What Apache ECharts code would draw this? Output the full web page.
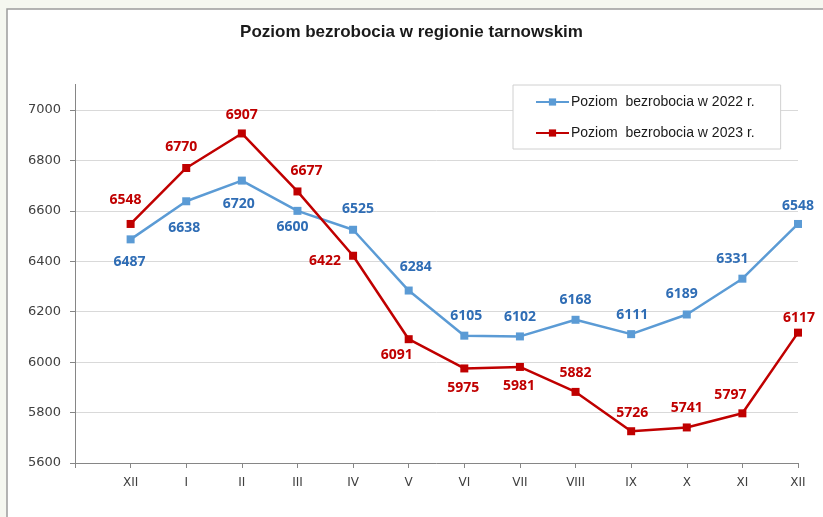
<!DOCTYPE html>
<html>
<head>
<meta charset="utf-8">
<script src="https://cdn.jsdelivr.net/npm/echarts@6/dist/echarts.min.js"></script>
<style>
html,body{margin:0;padding:0;background:#f5f7f0;}
#c{width:823px;height:517px;}
</style>
</head>
<body>
<div id="c"></div>
<script>
// ---- data ----
var titleText = 'Poziom bezrobocia w regionie tarnowskim';
var categories = ['', 'XII', 'I', 'II', 'III', 'IV', 'V', 'VI', 'VII', 'VIII', 'IX', 'X', 'XI', 'XII'];
var seriesNames = ['Poziom  bezrobocia w 2022 r.', 'Poziom  bezrobocia w 2023 r.'];
var values2022 = [6487, 6638, 6720, 6600, 6525, 6284, 6105, 6102, 6168, 6111, 6189, 6331, 6548];
var values2023 = [6548, 6770, 6907, 6677, 6422, 6091, 5975, 5981, 5882, 5726, 5741, 5797, 6117];
var yMin = 5600, yMax = 7000, yStep = 200;

// label placement (styling only)
var pos2022 = ['bottom','bottom','bottom','bottom','top','top','top','top','top','top','top','top','top'];
var off2022 = [[-1,3],[-2,7],[-3,3],[-5,-4],[5,-1],[7,-4],[2,0],[0,1],[0,0],[1,1],[-5,0],[-10,0],[0,2]];
var pos2023 = ['top','top','top','top','left','bottom','bottom','bottom','top','top','top','top','top'];
var off2023 = [[-5,-4],[-5,-1],[0,2],[9,0],[0,5],[-12,-4],[-1,0],[-1,-1],[0,1],[1,2],[0,1],[-12,2],[1,5]];

function buildData(vals, pos, off) {
  var out = [null];
  vals.forEach(function (v, i) {
    out.push({
      value: v,
      label: { position: pos[i], offset: off[i], distance: pos[i] === 'left' ? 8 : 9 }
    });
  });
  return out;
}

var blue = '#5b9bd5', blueText = '#2f6db5';
var red = '#c00000';
var labelFont = { fontFamily: 'Noto Sans', fontWeight: 'bold', fontSize: 14 };

var chart = echarts.init(document.getElementById('c'), null, { renderer: 'canvas' });
chart.setOption({
  animation: false,
  backgroundColor: 'transparent',
  graphic: [
    { type: 'rect', z: -10, silent: true, shape: { x: 7, y: 9, width: 830, height: 520 },
      style: { fill: '#ffffff', stroke: '#9c9c9c', lineWidth: 1.5 } },
    { type: 'line', z: 10, silent: true, shape: { x1: 75.5, y1: 84, x2: 75.5, y2: 111 },
      style: { stroke: '#868686', lineWidth: 1 } }
  ],
  title: {
    text: titleText,
    left: 'center',
    top: 19,
    padding: [5, 5, 5, 17],
    textStyle: { fontFamily: 'Liberation Sans', fontWeight: 'bold', fontSize: 17, color: '#1a1a1a' }
  },
  legend: {
    orient: 'vertical',
    left: 513,
    top: 85,
    padding: [10, 26, 9, 22],
    itemGap: 17,
    itemWidth: 33,
    itemHeight: 9,
    borderColor: '#d0d0d0',
    borderWidth: 1,
    backgroundColor: '#ffffff',
    textStyle: { fontFamily: 'Liberation Sans', fontSize: 14, color: '#1a1a1a', padding: [0, 0, 0, -3] },
    data: seriesNames
  },
  grid: { left: 75, right: 25, top: 110, bottom: 54, containLabel: false },
  xAxis: {
    type: 'category',
    data: categories,
    boundaryGap: false,
    axisLine: { lineStyle: { color: '#868686', width: 1 } },
    axisTick: { show: true, length: 5, interval: 0, lineStyle: { color: '#868686' } },
    axisLabel: { interval: 0, margin: 14, fontFamily: 'DejaVu Sans', fontSize: 12, color: '#404040' },
    splitLine: { show: false }
  },
  yAxis: {
    type: 'value',
    min: yMin,
    max: yMax,
    interval: yStep,
    axisLine: { show: true, lineStyle: { color: '#868686', width: 1 } },
    axisTick: { show: true, length: 5, lineStyle: { color: '#868686' } },
    axisLabel: { margin: 14, fontFamily: 'DejaVu Sans', fontSize: 13, color: '#404040',
      formatter: function (v) { return String(v); } },
    splitLine: { lineStyle: { color: '#d9d9d9', width: 1 } }
  },
  series: [
    {
      name: seriesNames[0],
      type: 'line',
      data: buildData(values2022, pos2022, off2022),
      symbol: 'rect',
      symbolSize: 8,
      showAllSymbol: true,
      connectNulls: false,
      lineStyle: { color: blue, width: 2.5 },
      itemStyle: { color: blue },
      label: Object.assign({ show: true, color: blueText }, labelFont),
      z: 3
    },
    {
      name: seriesNames[1],
      type: 'line',
      data: buildData(values2023, pos2023, off2023),
      symbol: 'rect',
      symbolSize: 8,
      showAllSymbol: true,
      lineStyle: { color: red, width: 2.5 },
      itemStyle: { color: red },
      label: Object.assign({ show: true, color: red }, labelFont),
      z: 4
    }
  ]
});
</script>
</body>
</html>
